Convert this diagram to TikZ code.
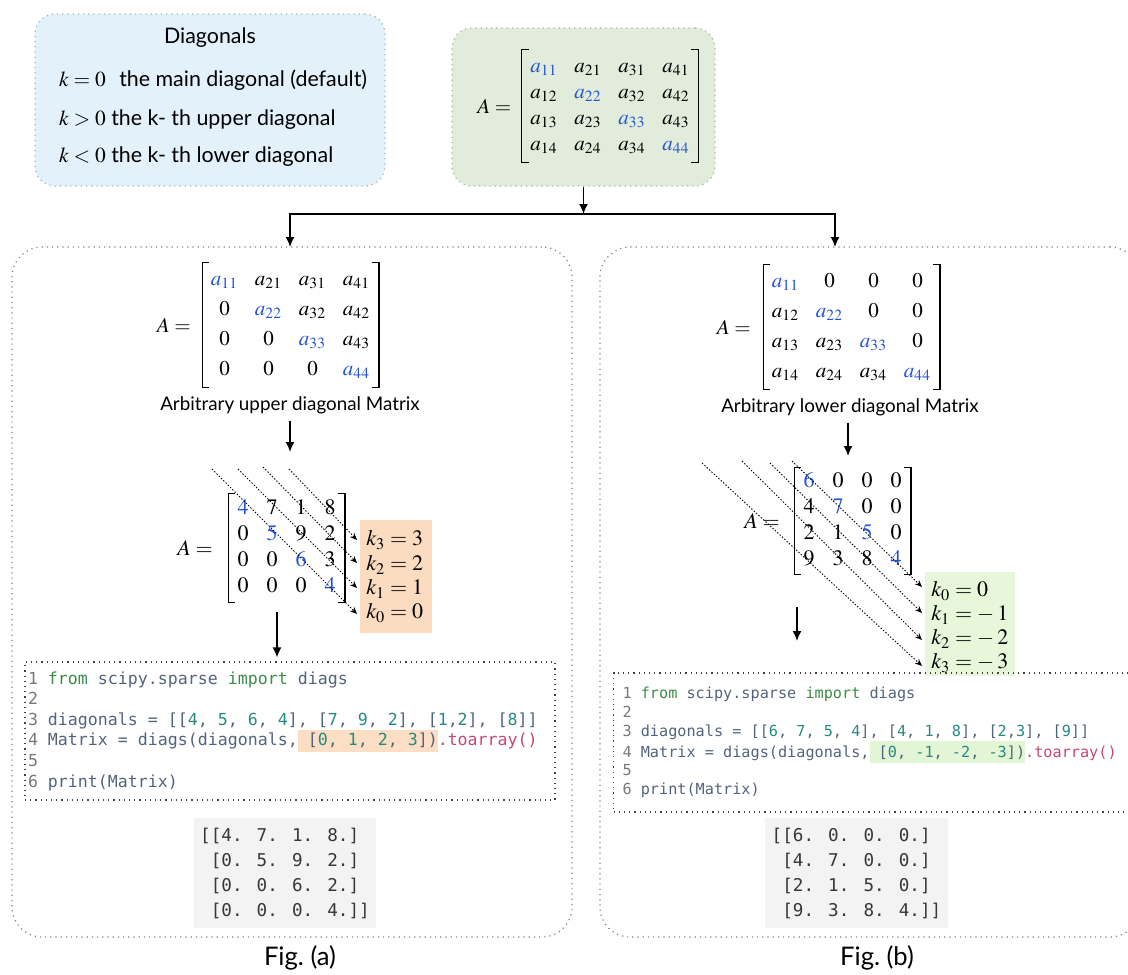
\documentclass[tikz,border=0pt]{standalone}
\usepackage{mathptmx}
\usepackage[no-math]{fontspec}
\setmainfont{Lato}
\newfontfamily\codefont{DejaVu Sans Mono}
\usetikzlibrary{arrows.meta,matrix,calc}

\definecolor{diagblue}{RGB}{38,84,214}
\definecolor{infofill}{RGB}{227,241,251}
\definecolor{infoline}{RGB}{165,180,195}
\definecolor{fullfill}{RGB}{226,236,218}
\definecolor{fullline}{RGB}{170,180,165}
\definecolor{panelline}{RGB}{130,130,130}
\definecolor{korange}{RGB}{252,220,192}
\definecolor{kgreen}{RGB}{232,246,218}
\definecolor{hlorange}{RGB}{252,222,196}
\definecolor{hlgreen}{RGB}{226,245,212}
\definecolor{outfill}{RGB}{243,243,243}
\definecolor{codeid}{RGB}{82,100,124}
\definecolor{codekw}{RGB}{58,140,72}
\definecolor{codenum}{RGB}{38,138,128}
\definecolor{codefn}{RGB}{196,72,112}
\definecolor{codeln}{RGB}{120,120,120}
\definecolor{outtext}{RGB}{55,55,55}

% code colouring helpers
\newcommand\kw[1]{\textcolor{codekw}{#1}}
\newcommand\nm[1]{\textcolor{codenum}{#1}}
\newcommand\fnc[1]{\textcolor{codefn}{#1}}
\newcommand\lno[1]{\textcolor{codeln}{#1}}
\newcommand\hlt[2]{{\setlength{\fboxsep}{0pt}\colorbox{#1}{\rule[-3pt]{0pt}{11pt}#2}}}
% monospaced spacing: keep the font's own space width
\newcommand\fixedspaces{\spaceskip=0pt\xspaceskip=0pt\relax}

% square brackets around a matrix node: #1 name, #2 vertical overshoot
\newcommand\mbrackets[2]{%
  \draw[brk] ([xshift=3.5pt,yshift=#2]#1.north west) -- ([yshift=#2]#1.north west)
    -- ([yshift=-#2]#1.south west) -- ([xshift=3.5pt,yshift=-#2]#1.south west);
  \draw[brk] ([xshift=-3.5pt,yshift=#2]#1.north east) -- ([yshift=#2]#1.north east)
    -- ([yshift=-#2]#1.south east) -- ([xshift=-3.5pt,yshift=-#2]#1.south east);}

\begin{document}
\begin{tikzpicture}[x=0.5pt,y=-0.5pt,
  brk/.style={line width=0.6pt},
  arr/.style={line width=0.8pt,-{Latex[length=5pt,width=4.5pt]}},
  darr/.style={line width=0.45pt,dash pattern=on 0.7pt off 0.9pt,-{Stealth[length=3.6pt,width=3pt]}},
  infobox/.style={draw=infoline,fill=infofill,dotted,line width=0.6pt,rounded corners=10pt},
  fullbox/.style={draw=fullline,fill=fullfill,dotted,line width=0.6pt,rounded corners=10pt},
  panel/.style={draw=panelline,dotted,line width=0.6pt,rounded corners=15pt},
  kbox/.style={draw=none,inner sep=0pt},
  codebox/.style={draw=black!75,dotted,line width=0.6pt,align=flush left,text=codeid},
  outbox/.style={fill=outfill,align=flush left,text=outtext},
  sans/.style={font=\fontsize{10.7}{13}\selectfont},
  captext/.style={font=\fontsize{9.4}{11}\selectfont},
  klab/.style={anchor=west,inner sep=0pt,font=\fontsize{11}{13}\selectfont},
  eqlab/.style={anchor=east,inner sep=0pt},
  amat/.style={matrix of math nodes,inner sep=0pt,column sep=0pt,row sep=0pt,
    nodes={inner sep=0pt,minimum width=22pt,text height=9pt,text depth=4pt,
      font=\fontsize{10.5}{12}\selectfont}},
  pmat/.style={matrix of math nodes,inner sep=0pt,column sep=0pt,row sep=0pt,
    nodes={inner sep=0pt,minimum width=22pt,text height=10pt,text depth=5pt,
      font=\fontsize{10.5}{12}\selectfont}},
  nmat/.style={matrix of math nodes,inner sep=0pt,column sep=0pt,row sep=0pt,
    nodes={inner sep=0pt,minimum width=14.5pt,text height=9pt,text depth=4pt,
      font=\fontsize{11}{13}\selectfont}}]
\useasboundingbox (0,0) rectangle (1128,974);

% ---------- legend of diagonal offsets ----------
\node[infobox,minimum width=175pt,minimum height=86pt] (info) at (210,100) {};
\node[sans] (infoT) at (210,38) {Diagonals};
\node[sans,anchor=west] (infoA) at (52,80) {$k=0$\hspace{4pt} the main diagonal (default)};
\node[sans,anchor=west] (infoB) at (52,120) {$k>0$ the k- th upper diagonal};
\node[sans,anchor=west] (infoC) at (52,157) {$k<0$ the k- th lower diagonal};

% ---------- full matrix ----------
\node[fullbox,minimum width=131.5pt,minimum height=79pt] (full) at (583.5,107) {};
\matrix[amat] (Mtop) at (610,106) {
  {\color{diagblue}a_{11}} & a_{21} & a_{31} & a_{41} \\
  a_{12} & {\color{diagblue}a_{22}} & a_{32} & a_{42} \\
  a_{13} & a_{23} & {\color{diagblue}a_{33}} & a_{43} \\
  a_{14} & a_{24} & a_{34} & {\color{diagblue}a_{44}} \\
};
\mbrackets{Mtop}{2pt}
\node[eqlab,font=\fontsize{10.5}{12}\selectfont] (Atop) at ([xshift=-5pt]Mtop.west) {$A =$};

% ---------- the two panels ----------
\node[panel,minimum width=280pt,minimum height=345pt] (panelA) at (292,592) {};
\node[panel,minimum width=270pt,minimum height=345pt] (panelB) at (870,592) {};

\coordinate (split) at (583.5,214);
\coordinate (inA) at (290,247);
\coordinate (inB) at (835,247);
\draw[arr] (full.south) -- (split);
\draw[arr] (split) -| (inA);
\draw[arr] (split) -| (inB);

% ---------- panel (a): upper triangular ----------
\matrix[pmat] (MA) at (290.5,325) {
  {\color{diagblue}a_{11}} & a_{21} & a_{31} & a_{41} \\
  0 & {\color{diagblue}a_{22}} & a_{32} & a_{42} \\
  0 & 0 & {\color{diagblue}a_{33}} & a_{43} \\
  0 & 0 & 0 & {\color{diagblue}a_{44}} \\
};
\mbrackets{MA}{1pt}
\node[eqlab,font=\fontsize{10.5}{12}\selectfont] (AA) at ([xshift=-5.5pt]MA.west) {$A =$};
\node[captext] (capA) at (290,405) {Arbitrary upper diagonal Matrix};
\coordinate (aA1) at (290,452);
\draw[arr] (capA.south) -- (aA1);

\matrix[nmat] (NA) at (286.5,548) {
  {\color{diagblue}4} & 7 & 1 & 8 \\
  0 & {\color{diagblue}5} & 9 & 2 \\
  0 & 0 & {\color{diagblue}6} & 3 \\
  0 & 0 & 0 & {\color{diagblue}4} \\
};
\mbrackets{NA}{1pt}
\node[eqlab,font=\fontsize{11}{13}\selectfont] (ANA) at ([xshift=-7.5pt]NA.west) {$A =$};

\node[kbox,fill=korange,minimum width=36pt,minimum height=56.5pt] (kboxA) at (396,576.5) {};
\node[klab] (kA3) at (366,540) {$k_3 = 3$};
\node[klab] (kA2) at (366,565) {$k_2 = 2$};
\node[klab] (kA1) at (366,589) {$k_1 = 1$};
\node[klab] (kA0) at (366,613) {$k_0 = 0$};

\coordinate (sA3) at (289,469); \coordinate (tA3) at (357,540);
\coordinate (sA2) at (263,467); \coordinate (tA2) at (357,563);
\coordinate (sA1) at (238,469); \coordinate (tA1) at (357,588);
\coordinate (sA0) at (212,469); \coordinate (tA0) at (357,614);
\draw[darr] (sA3) -- (tA3);
\draw[darr] (sA2) -- (tA2);
\draw[darr] (sA1) -- (tA1);
\draw[darr] (sA0) -- (tA0);

\coordinate (aA2) at (277,612);
\node[codebox,text width=262pt,inner xsep=1.5pt,minimum height=69pt,
  font=\fontsize{8.3}{10.3}\selectfont\codefont] (codeA) at (290,731) {\fixedspaces
\lno{1} \kw{from} scipy.sparse \kw{import} diags\\
\lno{2}\\
\lno{3} diagonals = [[\nm{4}, \nm{5}, \nm{6}, \nm{4}], [\nm{7}, \nm{9}, \nm{2}], [\nm{1},\nm{2}], [\nm{8}]]\\
\lno{4} Matrix = diags(diagonals,\hlt{hlorange}{ [\nm{0}, \nm{1}, \nm{2}, \nm{3}])}\fnc{.toarray()}\\
\lno{5}\\
\lno{6} print(Matrix)};
\draw[arr] (aA2) -- ([yshift=2pt]codeA.north -| aA2);

\node[outbox,minimum width=88pt,minimum height=55pt,
  font=\fontsize{8.8}{12.5}\selectfont\codefont] (outA) at (285,873) {\fixedspaces
[[4. 7. 1. 8.]\\\hphantom{[}[0. 5. 9. 2.]\\\hphantom{[}[0. 0. 6. 2.]\\\hphantom{[}[0. 0. 0. 4.]]};

\node[font=\fontsize{12.8}{15}\selectfont] (figA) at (300,958) {Fig.\ (a)};

% ---------- panel (b): lower triangular ----------
\matrix[pmat] (MB) at (851.5,327) {
  {\color{diagblue}a_{11}} & 0 & 0 & 0 \\
  a_{12} & {\color{diagblue}a_{22}} & 0 & 0 \\
  a_{13} & a_{23} & {\color{diagblue}a_{33}} & 0 \\
  a_{14} & a_{24} & a_{34} & {\color{diagblue}a_{44}} \\
};
\mbrackets{MB}{1pt}
\node[eqlab,font=\fontsize{10.5}{12}\selectfont] (AB) at ([xshift=-6pt]MB.west) {$A =$};
\node[captext] (capB) at (850,407) {Arbitrary lower diagonal Matrix};
\coordinate (aB1) at (848,456);
\draw[arr] (capB.south -| aB1) -- (aB1);

\matrix[nmat] (NB) at (852.5,521) {
  {\color{diagblue}6} & 0 & 0 & 0 \\
  4 & {\color{diagblue}7} & 0 & 0 \\
  2 & 1 & {\color{diagblue}5} & 0 \\
  9 & 3 & 8 & {\color{diagblue}4} \\
};
\mbrackets{NB}{0.5pt}
\node[eqlab,font=\fontsize{11}{13}\selectfont] (ANB) at ([xshift=-7pt]NB.west) {$A =$};

\node[kbox,fill=kgreen,minimum width=45pt,minimum height=52pt] (kboxB) at (970,624) {};
\node[klab] (kB0) at (931,591) {$k_0 = 0$};
\node[klab] (kB1) at (931,615) {$k_1 = -\:1$};
\node[klab] (kB2) at (931,639) {$k_2 = -\:2$};
\node[klab] (kB3) at (931,663) {$k_3 = -\:3$};

\coordinate (sB0) at (792,461); \coordinate (tB0) at (922,587);
\coordinate (sB1) at (770,463); \coordinate (tB1) at (922,613);
\coordinate (sB2) at (742,461); \coordinate (tB2) at (922,640);
\coordinate (sB3) at (702,463); \coordinate (tB3) at (922,666);
\draw[darr] (sB0) -- (tB0);
\draw[darr] (sB1) -- (tB1);
\draw[darr] (sB2) -- (tB2);
\draw[darr] (sB3) -- (tB3);

\coordinate (aB2s) at (797,607);
\coordinate (aB2) at (797,641);
\draw[arr] (aB2s) -- (aB2);

\node[codebox,text width=254pt,inner xsep=4.5pt,minimum height=69.5pt,
  font=\fontsize{7.6}{9.3}\selectfont\codefont] (codeB) at (876.5,742.5) {\fixedspaces
\lno{1} \kw{from} scipy.sparse \kw{import} diags\\
\lno{2}\\
\lno{3} diagonals = [[\nm{6}, \nm{7}, \nm{5}, \nm{4}], [\nm{4}, \nm{1}, \nm{8}], [\nm{2},\nm{3}], [\nm{9}]]\\
\lno{4} Matrix = diags(diagonals,\hlt{hlgreen}{ [\nm{0}, \nm{-1}, \nm{-2}, \nm{-3}])}\fnc{.toarray()}\\
\lno{5}\\
\lno{6} print(Matrix)};

\node[outbox,minimum width=83.5pt,minimum height=55pt,
  font=\fontsize{8.8}{12.5}\selectfont\codefont] (outB) at (856.5,873) {\fixedspaces
[[6. 0. 0. 0.]\\\hphantom{[}[4. 7. 0. 0.]\\\hphantom{[}[2. 1. 5. 0.]\\\hphantom{[}[9. 3. 8. 4.]]};

\node[font=\fontsize{12.8}{15}\selectfont] (figB) at (877,958) {Fig.\ (b)};
\end{tikzpicture}
\end{document}
